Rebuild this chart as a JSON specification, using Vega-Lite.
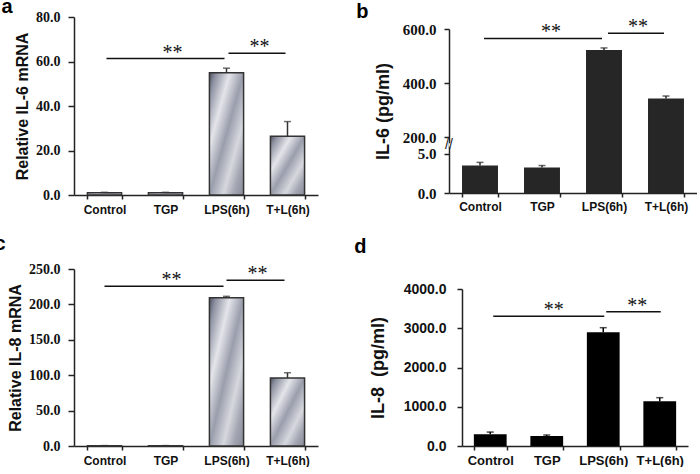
{
  "$schema": "https://vega.github.io/schema/vega-lite/v6.json",
  "background": "white",
  "padding": {"left": -6, "top": -3, "right": 0, "bottom": 0},
  "config": {
    "view": {"stroke": null},
    "axis": {"grid": false, "domainColor": "#222", "tickColor": "#222", "domainWidth": 1.5, "tickWidth": 1.5, "labelColor": "#111", "titleColor": "#111", "labelOverlap": false, "labelBound": false}
  },
  "spacing": 36,
  "align": "none",
  "hconcat": [
    {
      "spacing": 19,
      "vconcat": [
        {
          "title": {"text": "a", "anchor": "start", "frame": "bounds", "font": "Liberation Sans", "fontSize": 20, "fontWeight": "bold", "offset": -7, "dx": -13},
          "width": 244, "height": 178,
          "data": {"values": [
            {"g": "Control", "v": 1.0, "hi": 1.2},
            {"g": "TGP", "v": 1.0, "hi": 1.2},
            {"g": "LPS(6h)", "v": 55.0, "hi": 57.0},
            {"g": "T+L(6h)", "v": 26.4, "hi": 33.0}
          ]},
          "encoding": {
            "x": {"field": "g", "type": "nominal", "sort": null,
              "scale": {"domain": ["Control", "TGP", "LPS(6h)", "T+L(6h)"], "paddingInner": 0.44, "paddingOuter": 0.22},
              "axis": {"title": null, "labelAngle": 0, "labelFont": "Liberation Sans", "labelFontSize": 12, "labelFontWeight": "bold", "ticks": true, "tickBand": "extent", "tickSize": 4, "labelPadding": 5}}
          },
          "layer": [
            {"mark": {"type": "bar", "stroke": "#333", "strokeWidth": 1.5,
              "fill": {"gradient": "linear", "x1": 0, "y1": 0, "x2": 1, "y2": 1, "stops": [
                {"offset": 0, "color": "#4e5262"}, {"offset": 0.1, "color": "#8e92a2"}, {"offset": 0.3, "color": "#e4e5ea"},
                {"offset": 0.5, "color": "#9a9eac"}, {"offset": 0.7, "color": "#d6d8de"}, {"offset": 0.85, "color": "#a3a6b2"}, {"offset": 1, "color": "#878a98"}]}},
              "encoding": {"y": {"field": "v", "type": "quantitative",
                "scale": {"domain": [0, 80], "nice": false},
                "axis": {"values": [0, 20, 40, 60, 80], "tickCount": 10, "format": ".1f", "title": "Relative IL-6 mRNA",
                  "labelFont": "Liberation Serif", "labelFontSize": 14, "labelFontWeight": "bold", "tickSize": 6, "labelPadding": 8,
                  "titleFont": "Liberation Sans", "titleFontSize": 16, "titleFontWeight": "bold", "titlePadding": 5}}}},
            {"mark": {"type": "rule", "color": "#333", "strokeWidth": 1.5},
              "encoding": {"y": {"field": "v", "type": "quantitative"}, "y2": {"field": "hi"}}},
            {"mark": {"type": "tick", "color": "#333", "thickness": 1.5, "size": 7},
              "encoding": {"y": {"field": "hi", "type": "quantitative"}}},
            {"data": {"values": [{"from": "Control", "to": "LPS(6h)", "y": 61.3}, {"from": "LPS(6h)", "to": "T+L(6h)", "y": 63.7}]},
              "mark": {"type": "rule", "color": "#111", "strokeWidth": 1.5, "xOffset": 2, "x2Offset": -2},
              "encoding": {"x": {"field": "from", "type": "nominal"}, "x2": {"field": "to"}, "y": {"field": "y", "type": "quantitative"}}},
            {"data": {"values": [{"at": "TGP", "y": 61.3, "s": "**"}]},
              "mark": {"type": "text", "font": "Liberation Serif", "fontSize": 20, "baseline": "alphabetic", "xOffset": 7, "color": "#111"},
              "encoding": {"x": {"field": "at", "type": "nominal"}, "y": {"field": "y", "type": "quantitative"}, "text": {"field": "s"}}},
            {"data": {"values": [{"at": "LPS(6h)", "y": 63.7, "s": "**"}]},
              "mark": {"type": "text", "font": "Liberation Serif", "fontSize": 20, "baseline": "alphabetic", "xOffset": 33, "color": "#111"},
              "encoding": {"x": {"field": "at", "type": "nominal"}, "y": {"field": "y", "type": "quantitative"}, "text": {"field": "s"}}}
          ]
        },
        {
          "title": {"text": "c", "anchor": "start", "frame": "bounds", "font": "Liberation Sans", "fontSize": 20, "fontWeight": "bold", "offset": 8, "dx": -13},
          "width": 244, "height": 177,
          "data": {"values": [
            {"g": "Control", "v": 0.5, "hi": 0.6},
            {"g": "TGP", "v": 0.5, "hi": 0.6},
            {"g": "LPS(6h)", "v": 209.5, "hi": 211.4},
            {"g": "T+L(6h)", "v": 96.0, "hi": 103.5}
          ]},
          "encoding": {
            "x": {"field": "g", "type": "nominal", "sort": null,
              "scale": {"domain": ["Control", "TGP", "LPS(6h)", "T+L(6h)"], "paddingInner": 0.44, "paddingOuter": 0.22},
              "axis": {"title": null, "labelAngle": 0, "labelFont": "Liberation Sans", "labelFontSize": 12, "labelFontWeight": "bold", "ticks": true, "tickBand": "extent", "tickSize": 4, "labelPadding": 5}}
          },
          "layer": [
            {"mark": {"type": "bar", "stroke": "#333", "strokeWidth": 1.5,
              "fill": {"gradient": "linear", "x1": 0, "y1": 0, "x2": 1, "y2": 1, "stops": [
                {"offset": 0, "color": "#4e5262"}, {"offset": 0.1, "color": "#8e92a2"}, {"offset": 0.3, "color": "#e4e5ea"},
                {"offset": 0.5, "color": "#9a9eac"}, {"offset": 0.7, "color": "#d6d8de"}, {"offset": 0.85, "color": "#a3a6b2"}, {"offset": 1, "color": "#878a98"}]}},
              "encoding": {"y": {"field": "v", "type": "quantitative",
                "scale": {"domain": [0, 250], "nice": false},
                "axis": {"values": [0, 50, 100, 150, 200, 250], "tickCount": 10, "format": ".1f", "title": "Relative IL-8 mRNA",
                  "labelFont": "Liberation Serif", "labelFontSize": 14, "labelFontWeight": "bold", "tickSize": 6, "labelPadding": 8,
                  "titleFont": "Liberation Sans", "titleFontSize": 16, "titleFontWeight": "bold", "titlePadding": 5}}}},
            {"mark": {"type": "rule", "color": "#333", "strokeWidth": 1.5},
              "encoding": {"y": {"field": "v", "type": "quantitative"}, "y2": {"field": "hi"}}},
            {"mark": {"type": "tick", "color": "#333", "thickness": 1.5, "size": 7},
              "encoding": {"y": {"field": "hi", "type": "quantitative"}}},
            {"data": {"values": [{"from": "Control", "to": "LPS(6h)", "y": 225.5}, {"from": "LPS(6h)", "to": "T+L(6h)", "y": 234}]},
              "mark": {"type": "rule", "color": "#111", "strokeWidth": 1.5, "xOffset": 0, "x2Offset": -3},
              "encoding": {"x": {"field": "from", "type": "nominal"}, "x2": {"field": "to"}, "y": {"field": "y", "type": "quantitative"}}},
            {"data": {"values": [{"at": "TGP", "y": 225.5, "s": "**"}]},
              "mark": {"type": "text", "font": "Liberation Serif", "fontSize": 20, "baseline": "alphabetic", "xOffset": 6, "color": "#111"},
              "encoding": {"x": {"field": "at", "type": "nominal"}, "y": {"field": "y", "type": "quantitative"}, "text": {"field": "s"}}},
            {"data": {"values": [{"at": "LPS(6h)", "y": 234, "s": "**"}]},
              "mark": {"type": "text", "font": "Liberation Serif", "fontSize": 20, "baseline": "alphabetic", "xOffset": 31, "color": "#111"},
              "encoding": {"x": {"field": "at", "type": "nominal"}, "y": {"field": "y", "type": "quantitative"}, "text": {"field": "s"}}}
          ]
        }
      ]
    },
    {
      "spacing": 25,
      "vconcat": [
        {
          "title": {"text": "b", "anchor": "start", "frame": "bounds", "font": "Liberation Sans", "fontSize": 20, "fontWeight": "bold", "offset": -5, "dx": -18},
          "width": 248, "height": 176,
          "data": {"values": [
            {"g": "Control", "v": 3.5, "hi": 3.9},
            {"g": "TGP", "v": 3.25, "hi": 3.5},
            {"g": "LPS(6h)", "v": 522, "hi": 530},
            {"g": "T+L(6h)", "v": 343, "hi": 352}
          ]},
          "encoding": {
            "x": {"field": "g", "type": "nominal", "sort": null,
              "scale": {"domain": ["Control", "TGP", "LPS(6h)", "T+L(6h)"], "paddingInner": 0.42, "paddingOuter": 0.21},
              "axis": {"title": null, "labelAngle": 0, "labelFont": "Liberation Sans", "labelFontSize": 12, "labelFontWeight": "bold", "ticks": true, "tickBand": "extent", "tickSize": 4, "labelPadding": 4}}
          },
          "layer": [
            {"mark": {"type": "bar", "color": "#262626"},
              "encoding": {"y": {"field": "v", "type": "quantitative",
                "scale": {"domain": [0, 5.9, 177, 600], "range": [176, 129.7, 126.3, 12], "nice": false, "zero": false},
                "axis": {"values": [0, 5, 200, 400, 600], "tickCount": 10, "format": ".1f", "title": "IL-6 (pg/ml)",
                  "labelFont": "Liberation Serif", "labelFontSize": 15, "labelFontWeight": "bold", "tickSize": 5, "labelPadding": 8,
                  "titleFont": "Liberation Sans", "titleFontSize": 18, "titleFontWeight": "bold", "titlePadding": 10}}}},
            {"mark": {"type": "rule", "color": "#262626", "strokeWidth": 1.5},
              "encoding": {"y": {"field": "v", "type": "quantitative"}, "y2": {"field": "hi"}}},
            {"mark": {"type": "tick", "color": "#262626", "thickness": 1.5, "size": 7},
              "encoding": {"y": {"field": "hi", "type": "quantitative"}}},
            {"data": {"values": [{"lo": 5.9, "hi": 177}]},
              "mark": {"type": "rect", "color": "white"},
              "encoding": {"y": {"field": "lo", "type": "quantitative"}, "y2": {"field": "hi"}}},
            {"data": {"values": [{"at": "Control", "y": 90, "s": "//"}]},
              "mark": {"type": "text", "font": "Liberation Sans", "fontSize": 14, "baseline": "middle", "xOffset": -31, "color": "#222"},
              "encoding": {"x": {"field": "at", "type": "nominal"}, "y": {"field": "y", "type": "quantitative"}, "text": {"field": "s"}}},
            {"data": {"values": [{"from": "Control", "to": "LPS(6h)", "y": 565}, {"from": "LPS(6h)", "to": "T+L(6h)", "y": 584}]},
              "mark": {"type": "rule", "color": "#111", "strokeWidth": 1.5, "xOffset": 4, "x2Offset": -2},
              "encoding": {"x": {"field": "from", "type": "nominal"}, "x2": {"field": "to"}, "y": {"field": "y", "type": "quantitative"}}},
            {"data": {"values": [{"at": "TGP", "y": 565, "s": "**"}]},
              "mark": {"type": "text", "font": "Liberation Serif", "fontSize": 20, "baseline": "alphabetic", "xOffset": 9, "color": "#111"},
              "encoding": {"x": {"field": "at", "type": "nominal"}, "y": {"field": "y", "type": "quantitative"}, "text": {"field": "s"}}},
            {"data": {"values": [{"at": "LPS(6h)", "y": 584, "s": "**"}]},
              "mark": {"type": "text", "font": "Liberation Serif", "fontSize": 20, "baseline": "alphabetic", "xOffset": 34, "color": "#111"},
              "encoding": {"x": {"field": "at", "type": "nominal"}, "y": {"field": "y", "type": "quantitative"}, "text": {"field": "s"}}}
          ]
        },
        {
          "title": {"text": "d", "anchor": "start", "frame": "bounds", "font": "Liberation Sans", "fontSize": 20, "fontWeight": "bold", "offset": 25, "dx": -15},
          "width": 239, "height": 157,
          "data": {"values": [
            {"g": "Control", "v": 298, "hi": 355},
            {"g": "TGP", "v": 255, "hi": 280},
            {"g": "LPS(6h)", "v": 2897, "hi": 3014},
            {"g": "T+L(6h)", "v": 1139, "hi": 1231}
          ]},
          "encoding": {
            "x": {"field": "g", "type": "nominal", "sort": null,
              "scale": {"domain": ["Control", "TGP", "LPS(6h)", "T+L(6h)"], "range": [13, 239], "paddingInner": 0.42, "paddingOuter": 0.21},
              "axis": {"title": null, "labelAngle": 0, "labelFont": "Liberation Sans", "labelFontSize": 13, "labelFontWeight": "bold", "ticks": true, "tickBand": "extent", "tickSize": 4, "labelPadding": 4}}
          },
          "layer": [
            {"mark": {"type": "bar", "color": "#000"},
              "encoding": {"y": {"field": "v", "type": "quantitative",
                "scale": {"domain": [0, 4000], "nice": false},
                "axis": {"values": [0, 1000, 2000, 3000, 4000], "tickCount": 10, "format": ".1f", "title": "IL-8\u00a0\u00a0(pg/ml)", "offset": -13,
                  "labelFont": "Liberation Sans", "labelFontSize": 14, "labelFontWeight": "bold", "tickSize": 5, "labelPadding": 11,
                  "titleFont": "Liberation Sans", "titleFontSize": 18, "titleFontWeight": "bold", "titlePadding": 16}}}},
            {"mark": {"type": "rule", "color": "#000", "strokeWidth": 1.5},
              "encoding": {"y": {"field": "v", "type": "quantitative"}, "y2": {"field": "hi"}}},
            {"mark": {"type": "tick", "color": "#000", "thickness": 1.5, "size": 7},
              "encoding": {"y": {"field": "hi", "type": "quantitative"}}},
            {"data": {"values": [{"from": "Control", "to": "LPS(6h)", "y": 3304}, {"from": "LPS(6h)", "to": "T+L(6h)", "y": 3422}]},
              "mark": {"type": "rule", "color": "#111", "strokeWidth": 1.5, "xOffset": 3, "x2Offset": 1},
              "encoding": {"x": {"field": "from", "type": "nominal"}, "x2": {"field": "to"}, "y": {"field": "y", "type": "quantitative"}}},
            {"data": {"values": [{"at": "TGP", "y": 3304, "s": "**"}]},
              "mark": {"type": "text", "font": "Liberation Serif", "fontSize": 20, "baseline": "alphabetic", "xOffset": 7, "color": "#111"},
              "encoding": {"x": {"field": "at", "type": "nominal"}, "y": {"field": "y", "type": "quantitative"}, "text": {"field": "s"}}},
            {"data": {"values": [{"at": "LPS(6h)", "y": 3422, "s": "**"}]},
              "mark": {"type": "text", "font": "Liberation Serif", "fontSize": 20, "baseline": "alphabetic", "xOffset": 34, "color": "#111"},
              "encoding": {"x": {"field": "at", "type": "nominal"}, "y": {"field": "y", "type": "quantitative"}, "text": {"field": "s"}}}
          ]
        }
      ]
    }
  ]
}
